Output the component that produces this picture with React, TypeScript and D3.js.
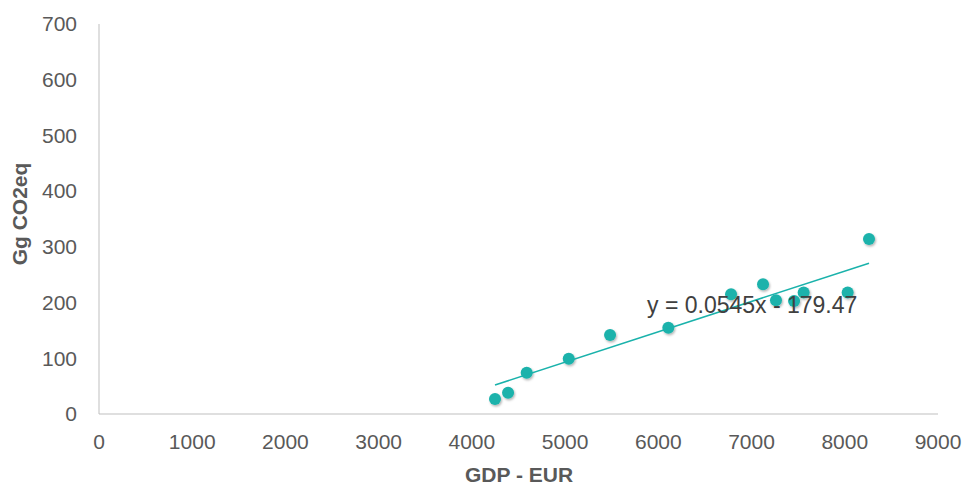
import React from "react";
import * as d3 from "d3";

const gdp = [4248, 4388, 4588, 5039, 5482, 6107, 6780, 7123, 7262, 7456, 7559, 8031, 8260];
const emissions = [27, 38, 74, 99, 142, 155, 215, 233, 204, 203, 218, 218, 314];
const xTicks = [0, 1000, 2000, 3000, 4000, 5000, 6000, 7000, 8000, 9000];
const yTicks = [0, 100, 200, 300, 400, 500, 600, 700];
const trendSlope = 0.0545;
const trendIntercept = -179.47;
const equationLabel = "y = 0.0545x - 179.47";
const xTitle = "GDP - EUR";
const yTitle = "Gg CO2eq";

const W = 971;
const H = 488;
const M = { left: 99, right: 33, top: 24, bottom: 74 };
const TEAL = "#1AB2AB";
const FONT = "'Liberation Sans', Arial, sans-serif";

export default function App() {
  const x = d3.scaleLinear().domain([0, 9000]).range([M.left, W - M.right]);
  const y = d3.scaleLinear().domain([0, 700]).range([H - M.bottom, M.top]);
  const xMin = d3.min(gdp) as number;
  const xMax = d3.max(gdp) as number;
  const trend = d3.line<number>()
    .x((d) => x(d))
    .y((d) => y(trendSlope * d + trendIntercept));

  return (
    <div style={{ position: "absolute", left: 0, top: 0 }}>
      <svg width={W} height={H} style={{ display: "block", background: "#fff" }} fontFamily={FONT}>
        <defs>
          <filter id="sh" x="-50%" y="-50%" width="200%" height="200%">
            <feDropShadow dx="1" dy="1.5" stdDeviation="1" floodColor="#000" floodOpacity="0.3" />
          </filter>
        </defs>
        {/* axes */}
        <line x1={x(0)} x2={x(0)} y1={y(700)} y2={y(0)} stroke="#BFBFBF" strokeWidth={1} />
        <line x1={x(0)} x2={x(9000)} y1={y(0)} y2={y(0)} stroke="#BFBFBF" strokeWidth={1} />
        {yTicks.map((t) => (
          <text key={"y" + t} x={77} y={y(t)} dy="0.35em" textAnchor="end" fontSize={21} fill="#595959">
            {t}
          </text>
        ))}
        {xTicks.map((t) => (
          <text key={"x" + t} x={x(t)} y={442} dy="0.35em" textAnchor="middle" fontSize={21} fill="#595959">
            {t}
          </text>
        ))}
        <text x={519} y={475} dy="0.35em" textAnchor="middle" fontSize={21} fontWeight="bold" fill="#595959">
          {xTitle}
        </text>
        <text
          transform={`translate(20,${214}) rotate(-90)`}
          textAnchor="middle"
          dy="0.35em"
          fontSize={21}
          fontWeight="bold"
          fill="#595959"
        >
          {yTitle}
        </text>
        {/* points */}
        <g filter="url(#sh)">
          {gdp.map((g, i) => (
            <circle key={i} cx={x(g)} cy={y(emissions[i])} r={6} fill={TEAL} />
          ))}
        </g>
        {/* trendline */}
        <path d={trend([xMin, xMax]) || ""} fill="none" stroke={TEAL} strokeWidth={1.5} />
        <text x={647} y={305} dy="0.35em" fontSize={23} fill="#404040">
          {equationLabel}
        </text>
      </svg>
    </div>
  );
}
